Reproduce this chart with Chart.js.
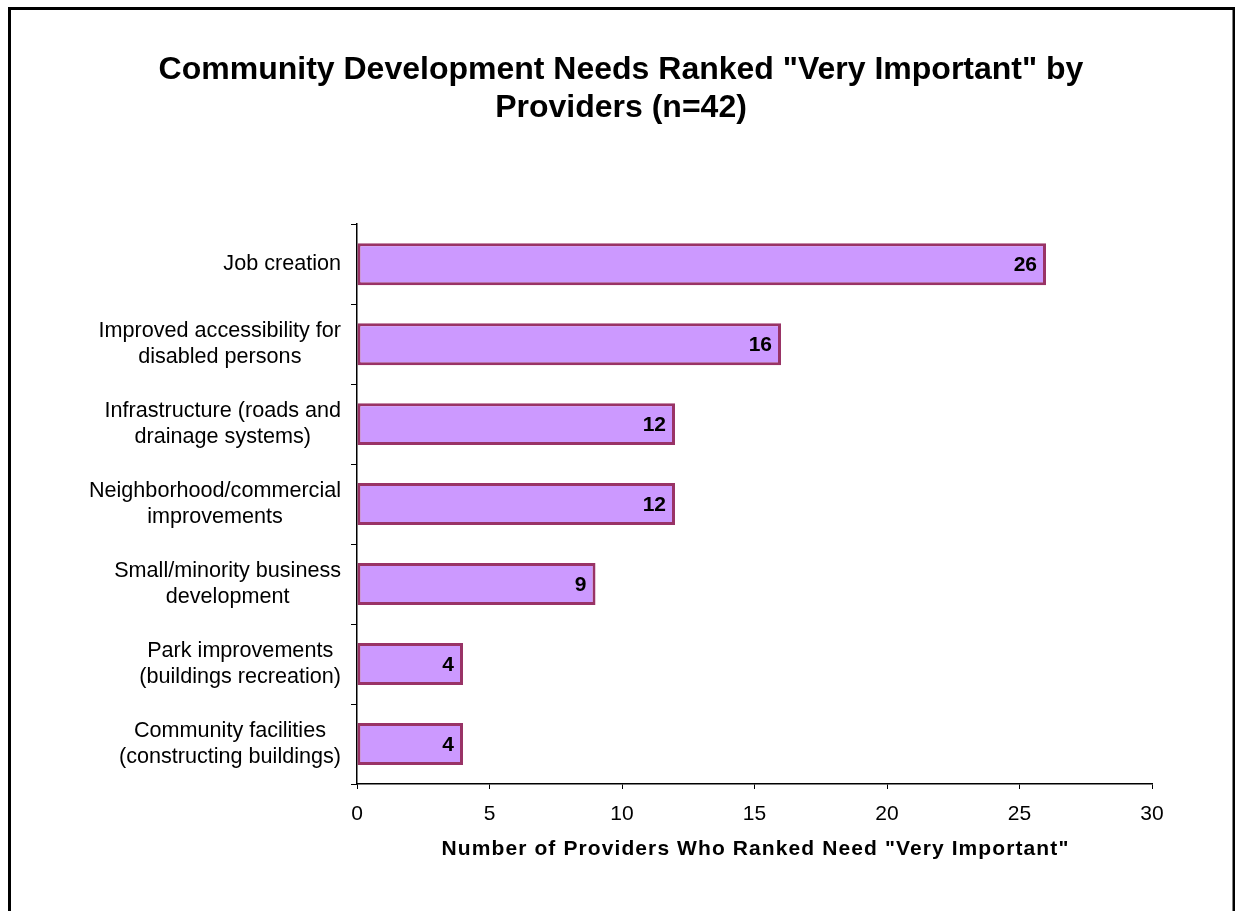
<!DOCTYPE html>
<html>
<head>
<meta charset="utf-8">
<title>Community Development Needs</title>
<script src="https://cdn.jsdelivr.net/npm/chart.js@4.4.1/dist/chart.umd.min.js"></script>
<style>
    html, body { margin: 0; padding: 0; background: #fff; }
    canvas { display: block; }
</style>
</head>
<body>
<canvas id="needsChart" width="1235" height="911"></canvas>
<script>
// Chart data
const categories = [
    ['Job creation'],
    ['Improved accessibility for', 'disabled persons'],
    ['Infrastructure (roads and', 'drainage systems)'],
    ['Neighborhood/commercial', 'improvements'],
    ['Small/minority business', 'development'],
    ['Park improvements', '(buildings recreation)'],
    ['Community facilities', '(constructing buildings)']
];
const providerCounts = [26, 16, 12, 12, 9, 4, 4];
const xTicks = [0, 5, 10, 15, 20, 25, 30];
const xAxisTitle = 'Number of Providers Who Ranked Need "Very Important"';

const FONT = "'Liberation Sans', Arial, sans-serif";

// White page with the black frame around the chart
const framePlugin = {
    id: 'frame',
    beforeDraw(chart) {
        const ctx = chart.ctx;
        ctx.save();
        ctx.fillStyle = '#fff';
        ctx.fillRect(0, 0, chart.width, chart.height);
        ctx.restore();
    },
    afterDraw(chart) {
        const ctx = chart.ctx;
        ctx.save();
        ctx.strokeStyle = '#000';
        ctx.lineWidth = 3;
        ctx.strokeRect(9.5, 8.5, 1224.5, 1000);
        ctx.restore();
    }
};

// Category labels: block right-aligned to the axis, lines centred in the block
const categoryLabels = {
    id: 'categoryLabels',
    afterDraw(chart) {
        const ctx = chart.ctx;
        const scale = chart.scales.y;
        const lineHeight = 26;
        ctx.save();
        ctx.font = '21.6px ' + FONT;
        ctx.fillStyle = '#000';
        ctx.textAlign = 'center';
        ctx.textBaseline = 'middle';
        categories.forEach((lines, i) => {
            const y = scale.getPixelForTick(i);
            const blockWidth = Math.max(...lines.map(l => ctx.measureText(l).width));
            const cx = scale.right - 16 - blockWidth / 2;
            lines.forEach((line, j) => {
                ctx.fillText(line, cx, y + (j - (lines.length - 1) / 2) * lineHeight);
            });
        });
        ctx.restore();
    }
};

// X axis title, slightly letter-spaced
const axisTitle = {
    id: 'axisTitle',
    afterDraw(chart) {
        const ctx = chart.ctx;
        const area = chart.chartArea;
        ctx.save();
        ctx.font = 'bold 21px ' + FONT;
        ctx.letterSpacing = '1.1px';
        ctx.fillStyle = '#000';
        ctx.textAlign = 'center';
        ctx.textBaseline = 'middle';
        ctx.fillText(xAxisTitle, (area.left + area.right) / 2 + 1, 849);
        ctx.restore();
    }
};

// Value labels at the inner end of each bar
const valueLabels = {
    id: 'valueLabels',
    afterDatasetsDraw(chart) {
        const ctx = chart.ctx;
        const meta = chart.getDatasetMeta(0);
        ctx.save();
        ctx.font = 'bold 21px ' + FONT;
        ctx.fillStyle = '#000';
        ctx.textAlign = 'right';
        ctx.textBaseline = 'middle';
        meta.data.forEach((bar, i) => {
            ctx.fillText(String(providerCounts[i]), bar.x - 9, bar.y + 1);
        });
        ctx.restore();
    }
};

new Chart(document.getElementById('needsChart'), {
    type: 'bar',
    data: {
        labels: categories,
        datasets: [{
            data: providerCounts,
            backgroundColor: '#CC99FF',
            borderColor: '#993366',
            borderWidth: 3,
            borderSkipped: false,
            categoryPercentage: 1,
            barPercentage: 0.525
        }]
    },
    options: {
        indexAxis: 'y',
        responsive: false,
        animation: false,
        layout: {
            padding: { top: 10, left: 90, right: 83, bottom: 0 }
        },
        plugins: {
            legend: { display: false },
            tooltip: { enabled: false },
            title: {
                display: true,
                text: ['Community Development Needs Ranked "Very Important" by', 'Providers (n=42)'],
                color: '#000',
                font: { family: FONT, size: 32, weight: 'bold', lineHeight: 1.2 },
                padding: { top: 41, bottom: 96.4 }
            }
        },
        scales: {
            x: {
                min: 0,
                max: 30,
                afterBuildTicks(scale) {
                    scale.ticks = xTicks.map(v => ({ value: v }));
                },
                afterFit(scale) {
                    scale.height = 127;
                },
                grid: {
                    drawOnChartArea: false,
                    drawTicks: true,
                    tickLength: 5,
                    color: '#000'
                },
                border: { display: true, color: '#000', width: 1.5 },
                ticks: {
                    color: '#000',
                    padding: 13,
                    font: { family: FONT, size: 21 }
                },
                title: { display: false }
            },
            y: {
                afterFit(scale) {
                    scale.width = 267;
                },
                grid: {
                    drawOnChartArea: false,
                    drawTicks: true,
                    tickLength: 6,
                    offset: true,
                    color: '#000'
                },
                border: { display: true, color: '#000', width: 1.5 },
                ticks: { display: false }
            }
        }
    },
    plugins: [framePlugin, categoryLabels, axisTitle, valueLabels]
});
</script>
</body>
</html>
